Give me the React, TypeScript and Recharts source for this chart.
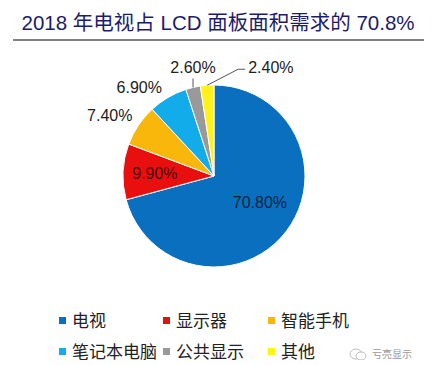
import { PieChart, Pie, Cell } from 'recharts';

const categories = ['电视', '显示器', '智能手机', '笔记本电脑', '公共显示', '其他'];
const shares = [70.8, 9.9, 7.4, 6.9, 2.6, 2.4];
const sliceColors = ['#0a6fbf', '#ea0f0f', '#f8b70a', '#12acea', '#999999', '#fff21c'];

const TITLE = '2018 年电视占 LCD 面板面积需求的 70.8%';

const data = categories.map((name, i) => ({ name, value: shares[i] }));

const RAD = Math.PI / 180;
const LABEL_FONT = '"Liberation Sans", Arial, sans-serif';
const CJK_FONT = '"Noto Sans CJK SC", sans-serif';

function SliceLabel(props: any) {
  const { cx, cy, midAngle, outerRadius, index, value } = props;
  const a = -midAngle * RAD;
  const cos = Math.cos(a);
  const sin = Math.sin(a);
  const text = `${Number(value).toFixed(2)}%`;
  const common = { fontFamily: LABEL_FONT, fontSize: 16, dominantBaseline: 'central' as const };

  // two biggest slices carry their label inside
  if (index <= 1) {
    const r = outerRadius * (index === 0 ? 0.58 : 0.65);
    const x = cx + r * cos + (index === 0 ? 4 : 0);
    const y = cy + r * sin + (index === 0 ? -6 : 0);
    return (
      <text x={x} y={y} textAnchor="middle" fill="#000" fillOpacity={0.72} {...common}>
        {text}
      </text>
    );
  }

  const ex = cx + outerRadius * cos;
  const ey = cy + outerRadius * sin;

  if (index === 4) {
    return (
      <g>
        <line x1={ex} y1={ey} x2={ex} y2={ey - 9} stroke="#555" strokeWidth={1} />
        <text x={ex} y={ey - 20} textAnchor="middle" fill="#222" {...common}>
          {text}
        </text>
      </g>
    );
  }
  if (index === 5) {
    return (
      <g>
        <polyline
          points={`${ex},${ey} ${ex + 31},${ey - 16} ${ex + 38},${ey - 16}`}
          fill="none"
          stroke="#555"
          strokeWidth={1}
        />
        <text x={ex + 41} y={ey - 18} textAnchor="start" fill="#222" {...common}>
          {text}
        </text>
      </g>
    );
  }
  return (
    <text x={ex - 6} y={ey - 10} textAnchor="end" fill="#222" {...common}>
      {text}
    </text>
  );
}

export default function App() {
  return (
    <div
      style={{
        position: 'absolute',
        left: 0,
        top: 0,
        width: 433,
        height: 365,
        background: '#fff',
        overflow: 'hidden',
      }}
    >
      <div
        style={{
          position: 'absolute',
          left: 0,
          top: 9,
          width: 436,
          textAlign: 'center',
          fontFamily: `"Liberation Sans", ${CJK_FONT}`,
          fontSize: 20.5,
          lineHeight: '28px',
          color: '#1c1c6b',
          whiteSpace: 'nowrap',
        }}
      >
        {TITLE}
      </div>
      <div style={{ position: 'absolute', left: 13, top: 39, width: 411, height: 2, background: '#808080' }} />

      <div style={{ position: 'absolute', left: 0, top: 0 }}>
        <PieChart width={433} height={300} margin={{ top: 0, right: 0, bottom: 0, left: 0 }}>
          <Pie
            data={data}
            dataKey="value"
            nameKey="name"
            cx={214}
            cy={176}
            outerRadius={91}
            startAngle={90}
            endAngle={-270}
            stroke="#fff"
            strokeWidth={1}
            label={SliceLabel}
            labelLine={false}
            isAnimationActive={false}
          >
            {data.map((d, i) => (
              <Cell key={d.name} fill={sliceColors[i]} />
            ))}
          </Pie>
        </PieChart>
      </div>

      <div
        style={{
          position: 'absolute',
          left: 59,
          top: 308,
          display: 'grid',
          gridTemplateColumns: '104px 105px auto',
          rowGap: 7,
          fontFamily: CJK_FONT,
          fontSize: 17,
          lineHeight: '24px',
          color: '#222',
        }}
      >
        {categories.map((c, i) => (
          <span key={c} style={{ display: 'flex', alignItems: 'center', whiteSpace: 'nowrap' }}>
            <span style={{ width: 7, height: 7, background: sliceColors[i], marginRight: 6, display: 'inline-block' }} />
            {c}
          </span>
        ))}
      </div>

      <div
        style={{
          position: 'absolute',
          left: 349,
          top: 347,
          fontFamily: CJK_FONT,
          fontSize: 10,
          lineHeight: '14px',
          color: '#9a9a9a',
          display: 'flex',
          alignItems: 'center',
        }}
      >
        <svg width={18} height={12} style={{ marginRight: 5 }}>
          <ellipse cx={7} cy={6} rx={6} ry={5} fill="none" stroke="#bbb" strokeWidth={1} />
          <ellipse cx={12} cy={8} rx={5} ry={4} fill="#fff" stroke="#bbb" strokeWidth={1} />
        </svg>
        亏亮显示
      </div>
    </div>
  );
}
